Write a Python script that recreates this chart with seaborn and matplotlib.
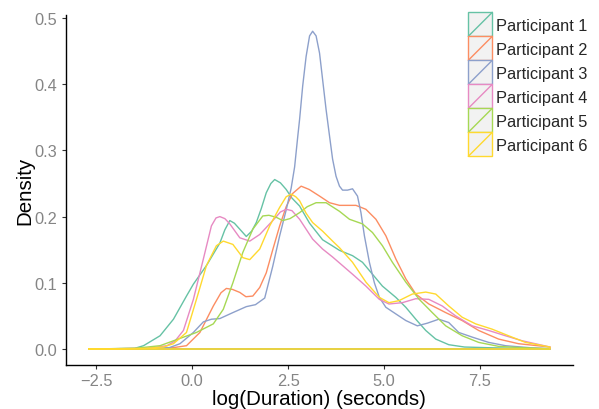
import numpy as np
import pandas as pd
import matplotlib
matplotlib.use("Agg")
import matplotlib.pyplot as plt
import seaborn as sns
from matplotlib.legend_handler import HandlerBase
from matplotlib.patches import Rectangle
from matplotlib.lines import Line2D

participants = ["Participant 1", "Participant 2", "Participant 3",
                "Participant 4", "Participant 5", "Participant 6"]
colors = ["#66c2a5", "#fc8d62", "#8da0cb", "#e78ac3", "#a6d854", "#ffd92f"]

p1_x = [-2.7, -1.5, -1.27, -0.84, -0.49, -0.15, 0.03, 0.37, 0.72, 0.85, 0.98, 1.1, 1.24, 1.41, 1.55, 1.67, 1.8, 1.93, 2.05, 2.15, 2.3, 2.45, 2.6, 2.8, 3.06, 3.4, 3.65, 3.84, 4.18, 4.44, 4.7, 4.96, 5.31, 5.57, 5.83, 6.09, 6.35, 6.69, 7.1, 7.7, 9.33]
p1_y = [0.0, 0.001, 0.005, 0.02, 0.045, 0.08, 0.098, 0.126, 0.16, 0.18, 0.194, 0.19, 0.181, 0.17, 0.178, 0.191, 0.212, 0.236, 0.25, 0.256, 0.251, 0.241, 0.228, 0.216, 0.19, 0.165, 0.156, 0.149, 0.141, 0.131, 0.113, 0.095, 0.078, 0.063, 0.045, 0.028, 0.015, 0.0065, 0.003, 0.002, 0.0]

p2_x = [-2.7, -1.0, -0.5, -0.15, 0.2, 0.55, 0.75, 0.89, 1.05, 1.24, 1.4, 1.58, 1.76, 1.93, 2.1, 2.28, 2.45, 2.62, 2.84, 3.05, 3.32, 3.58, 3.84, 4.27, 4.53, 4.79, 5.05, 5.31, 5.57, 5.83, 6.17, 6.61, 7.04, 7.47, 7.99, 8.51, 9.33]
p2_y = [0.0, 0.0005, 0.002, 0.005, 0.025, 0.065, 0.085, 0.0915, 0.09, 0.0855, 0.079, 0.08, 0.093, 0.115, 0.15, 0.186, 0.215, 0.235, 0.246, 0.241, 0.231, 0.221, 0.217, 0.217, 0.211, 0.196, 0.171, 0.136, 0.106, 0.083, 0.068, 0.055, 0.043, 0.028, 0.015, 0.008, 0.003]

p3_x = [-2.7, -1.0, -0.6, -0.32, 0.03, 0.29, 0.5, 0.72, 1.06, 1.41, 1.65, 1.89, 2.1, 2.28, 2.45, 2.58, 2.67, 2.75, 2.8, 2.88, 2.97, 3.06, 3.14, 3.23, 3.32, 3.4, 3.49, 3.58, 3.66, 3.75, 3.84, 3.92, 4.05, 4.18, 4.31, 4.4, 4.49, 4.62, 4.75, 4.88, 5.05, 5.31, 5.57, 5.87, 6.13, 6.43, 6.69, 6.95, 7.3, 7.73, 8.17, 8.8, 9.33]
p3_y = [0.0, 0.001, 0.002, 0.008, 0.025, 0.041, 0.045, 0.046, 0.055, 0.064, 0.067, 0.077, 0.125, 0.171, 0.21, 0.243, 0.275, 0.32, 0.347, 0.397, 0.442, 0.473, 0.48, 0.473, 0.447, 0.407, 0.362, 0.322, 0.287, 0.261, 0.246, 0.24, 0.24, 0.242, 0.231, 0.206, 0.171, 0.131, 0.1, 0.078, 0.063, 0.053, 0.043, 0.035, 0.039, 0.045, 0.04, 0.025, 0.018, 0.01, 0.005, 0.002, 0.0005]

p4_x = [-2.7, -1.2, -0.66, -0.45, -0.23, 0.03, 0.29, 0.5, 0.62, 0.72, 0.85, 0.98, 1.24, 1.5, 1.76, 2.1, 2.3, 2.45, 2.6, 2.8, 3.14, 3.4, 3.66, 3.84, 4.18, 4.53, 4.88, 5.13, 5.48, 5.83, 6.17, 6.52, 6.87, 7.3, 7.73, 8.17, 8.6, 9.33]
p4_y = [0.0, 0.001, 0.005, 0.012, 0.028, 0.075, 0.136, 0.186, 0.198, 0.2, 0.197, 0.189, 0.168, 0.163, 0.173, 0.194, 0.207, 0.211, 0.209, 0.196, 0.166, 0.151, 0.139, 0.13, 0.113, 0.095, 0.075, 0.068, 0.07, 0.076, 0.075, 0.065, 0.05, 0.035, 0.028, 0.02, 0.0125, 0.003]

p5_x = [-2.7, -1.5, -0.84, -0.32, 0.11, 0.55, 0.81, 1.06, 1.32, 1.58, 1.84, 2.0, 2.19, 2.36, 2.55, 2.8, 3.0, 3.23, 3.49, 3.84, 4.1, 4.44, 4.7, 4.96, 5.22, 5.57, 5.92, 6.26, 6.61, 7.04, 7.47, 7.99, 8.6, 9.33]
p5_y = [0.0, 0.001, 0.005, 0.016, 0.025, 0.038, 0.06, 0.1, 0.146, 0.181, 0.201, 0.202, 0.199, 0.194, 0.197, 0.206, 0.215, 0.221, 0.221, 0.208, 0.196, 0.189, 0.176, 0.156, 0.131, 0.101, 0.075, 0.055, 0.035, 0.02, 0.01, 0.004, 0.002, 0.0005]

p6_x = [-2.7, -1.2, -0.75, -0.49, -0.15, 0.11, 0.37, 0.63, 0.81, 1.06, 1.32, 1.5, 1.76, 2.02, 2.28, 2.45, 2.58, 2.7, 2.8, 2.97, 3.14, 3.4, 3.66, 3.84, 4.18, 4.53, 4.88, 5.13, 5.39, 5.74, 6.09, 6.35, 6.69, 7.04, 7.39, 7.82, 8.25, 8.69, 9.33]
p6_y = [0.0, 0.001, 0.003, 0.008, 0.025, 0.075, 0.126, 0.156, 0.163, 0.158, 0.138, 0.135, 0.151, 0.186, 0.214, 0.23, 0.234, 0.23, 0.224, 0.205, 0.191, 0.178, 0.163, 0.153, 0.131, 0.101, 0.078, 0.07, 0.073, 0.083, 0.086, 0.083, 0.065, 0.048, 0.038, 0.03, 0.02, 0.01, 0.003]

xs = [p1_x, p2_x, p3_x, p4_x, p5_x, p6_x]
ys = [p1_y, p2_y, p3_y, p4_y, p5_y, p6_y]

frames = []
for name, x, y in zip(participants, xs, ys):
    # close each density outline along the baseline (outlined area)
    cx = list(x) + [x[-1], x[0]]
    cy = list(y) + [0.0, 0.0]
    frames.append(pd.DataFrame({"x": cx, "density": cy, "participant": name}))
df = pd.concat(frames, ignore_index=True)

sns.set_theme(style="white")
plt.rcParams["font.family"] = ["Liberation Sans", "DejaVu Sans"]

fig = plt.figure(figsize=(5.99, 4.10), dpi=100)
ax = fig.add_axes([65.7 / 599, 1 - 365.7 / 410, (573 - 65.7) / 599, (365.7 - 15.7) / 410])

sns.lineplot(data=df, x="x", y="density", hue="participant", palette=colors,
             sort=False, estimator=None, units="participant", legend=False,
             linewidth=1.0, ax=ax)

ax.set_xlim(-3.30, 9.93)
ax.set_ylim(-0.0237, 0.505)
ax.set_xticks([-2.5, 0.0, 2.5, 5.0, 7.5])
ax.set_yticks([0.0, 0.1, 0.2, 0.3, 0.4, 0.5])
ax.set_xticklabels(["\u22122.5", "0.0", "2.5", "5.0", "7.5"])
ax.set_yticklabels(["0.0", "0.1", "0.2", "0.3", "0.4", "0.5"])

for s in ["top", "right"]:
    ax.spines[s].set_visible(False)
for s in ["left", "bottom"]:
    ax.spines[s].set_color("black")
    ax.spines[s].set_linewidth(1.0)

ax.tick_params(axis="both", which="both", length=3, width=0.8, color="#333333",
               labelsize=11.8, labelcolor="#858585", pad=3, bottom=True, left=True)
ax.set_xlabel("log(Duration) (seconds)", fontsize=14.8, color="black", labelpad=1)
ax.set_ylabel("Density", fontsize=14.8, color="black", labelpad=0)
ax.grid(False)


class KeyHandler(HandlerBase):
    def __init__(self, color):
        super().__init__()
        self.color = color

    def create_artists(self, legend, orig_handle, xdescent, ydescent, width, height, fontsize, trans):
        r = Rectangle((-xdescent, -ydescent), width, height, facecolor="#f2f2f2",
                      edgecolor=self.color, linewidth=1.0, transform=trans)
        l = Line2D([-xdescent, -xdescent + width], [-ydescent, -ydescent + height],
                   color=self.color, linewidth=1.0, transform=trans)
        return [r, l]


handles = [Rectangle((0, 0), 1, 1) for _ in participants]
hmap = {h: KeyHandler(c) for h, c in zip(handles, colors)}
fs = 11.8
key_pt = 24 * 72 / 100  # key size in points
hh = (key_pt / fs - 0.245) / 0.65
leg = fig.legend(handles, participants, handler_map=hmap, loc="upper left",
                 bbox_to_anchor=(468.3 / 599, 1 - 13.3 / 410), frameon=False,
                 fontsize=fs, handlelength=key_pt / fs, handleheight=hh,
                 labelspacing=0.0, handletextpad=3.4 * 0.72 / fs, borderpad=0.0,
                 borderaxespad=0.0)

fig.savefig("out.png", dpi=100)
